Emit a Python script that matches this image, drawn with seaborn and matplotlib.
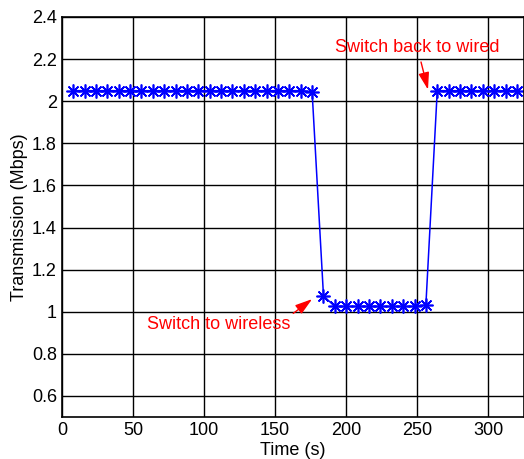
import matplotlib
matplotlib.use("Agg")
import matplotlib.pyplot as plt
import pandas as pd
import seaborn as sns

# transmission rate samples, every 8 s
time_s = [8 * k for k in range(1, 41)]
rate_mbps = ([2.05] * 21 + [2.045] +
             [1.075] + [1.025] * 8 + [1.032] +
             [2.05] * 8)

x_ticks = [0, 50, 100, 150, 200, 250, 300]
y_ticks = [0.6, 0.8, 1.0, 1.2, 1.4, 1.6, 1.8, 2.0, 2.2, 2.4]
y_tick_labels = ["0.6", "0.8", "1", "1.2", "1.4", "1.6", "1.8", "2", "2.2", "2.4"]

df = pd.DataFrame({"Time (s)": time_s, "Transmission (Mbps)": rate_mbps})

sns.set_theme(style="white")
plt.rcParams["font.family"] = ["Liberation Sans", "DejaVu Sans"]
plt.rcParams["text.color"] = "black"
plt.rcParams["axes.labelcolor"] = "black"
plt.rcParams["xtick.color"] = "black"
plt.rcParams["ytick.color"] = "black"

fig = plt.figure(figsize=(5.24, 4.59), dpi=100)
ax = fig.add_axes([0.118, 0.0915, 0.882, 0.8715])

sns.lineplot(data=df, x="Time (s)", y="Transmission (Mbps)", ax=ax,
             color="#0000ff", linewidth=1.1, marker=(8, 2, 0), markersize=10,
             markeredgecolor="#0000ff", markeredgewidth=1.2)

ax.set_xlim(0, 325)
ax.set_ylim(0.5, 2.4)
ax.set_xticks(x_ticks)
ax.set_yticks(y_ticks)
ax.set_yticklabels(y_tick_labels)
ax.grid(True, color="black", linewidth=1.0)
ax.tick_params(direction="in", labelsize=13, length=3, color="black")
for s in ax.spines.values():
    s.set_color("black")
    s.set_linewidth(1.2)
ax.set_xlabel("Time (s)", fontsize=13, labelpad=2)
ax.set_ylabel("Transmission (Mbps)", fontsize=13, labelpad=3)

ax.annotate("Switch back to wired", xy=(257.5, 2.055), xytext=(250, 2.255),
            color="red", fontsize=13, ha="center", va="center",
            arrowprops=dict(arrowstyle="-|>,head_length=0.8,head_width=0.25",
                            color="red", lw=1.0, shrinkA=2, shrinkB=0))
ax.annotate("Switch to wireless", xy=(176, 1.06), xytext=(110, 0.94),
            color="red", fontsize=13, ha="center", va="center",
            arrowprops=dict(arrowstyle="-|>,head_length=0.8,head_width=0.25",
                            color="red", lw=1.0, shrinkA=0, shrinkB=0,
                            relpos=(1.0, 1.0)))

fig.savefig("out.png", dpi=100)
